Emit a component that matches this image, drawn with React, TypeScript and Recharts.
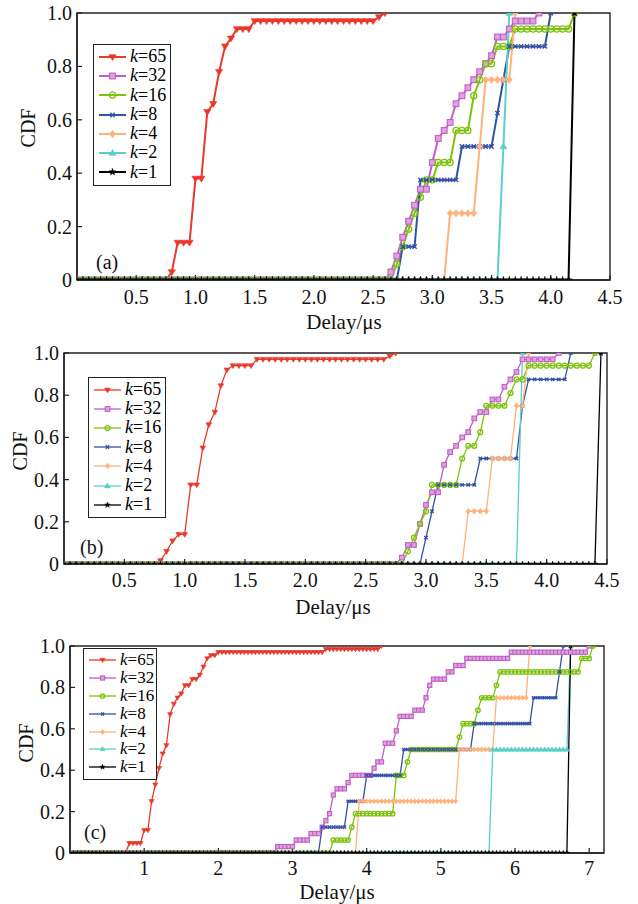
import React from 'react';
import { LineChart, Line, XAxis, YAxis, Legend, ReferenceArea } from 'recharts';

const FONT = '"Liberation Serif", "Times New Roman", Times, serif';
const STEP = 0.05; // delay sampling interval of the CDF, in μs

const seriesLabels = ['65', '32', '16', '8', '4', '2', '1'];
const seriesColors = ['#e8392c', '#c25ec6', '#7dc20f', '#3451a3', '#ffb27c', '#5ccfca', '#000000'];
const seriesFills = ['#e8392c', '#dba4de', 'none', '#3451a3', '#ffb27c', '#5ccfca', '#000000'];
const seriesMarkers = ['triDown', 'square', 'circle', 'cross', 'diamond', 'triUp', 'star'];

// Each series: [delay where the level starts, CDF level]; the last pair is the final point.
// Panel (a)
const a_k65 = [[0, 0], [0.8, 0.03], [0.85, 0.14], [1.0, 0.38], [1.1, 0.63], [1.15, 0.66], [1.2, 0.78], [1.25, 0.875], [1.3, 0.905], [1.35, 0.94], [1.5, 0.97], [2.55, 0.985], [2.6, 1.0]];
const a_k32 = [[0, 0], [2.65, 0.03], [2.7, 0.09], [2.75, 0.16], [2.8, 0.22], [2.85, 0.28], [2.9, 0.34], [3.0, 0.44], [3.05, 0.53], [3.1, 0.56], [3.15, 0.59], [3.2, 0.66], [3.25, 0.69], [3.3, 0.72], [3.35, 0.75], [3.4, 0.78], [3.45, 0.81], [3.5, 0.84], [3.55, 0.91], [3.65, 0.94], [3.7, 0.97], [3.9, 1.0]];
const a_k16 = [[0, 0], [2.7, 0.06], [2.75, 0.125], [2.8, 0.19], [2.85, 0.25], [2.9, 0.31], [2.95, 0.375], [3.05, 0.44], [3.2, 0.56], [3.35, 0.69], [3.4, 0.75], [3.45, 0.81], [3.55, 0.875], [3.7, 0.94], [4.2, 1.0]];
const a_k8 = [[0, 0], [2.75, 0.125], [2.9, 0.375], [3.25, 0.5], [3.55, 0.625], [3.6, 0.75], [3.65, 0.875], [4.0, 1.0]];
const a_k4 = [[0, 0], [3.15, 0.25], [3.4, 0.5], [3.45, 0.75], [3.7, 1.0]];
const a_k2 = [[0, 0], [3.6, 0.5], [3.65, 1.0]];
const a_k1 = [[0, 0], [4.2, 1.0]];

// Panel (b)
const b_k65 = [[0, 0], [0.8, 0.016], [0.85, 0.06], [0.9, 0.11], [0.95, 0.14], [1.05, 0.375], [1.15, 0.55], [1.2, 0.66], [1.25, 0.72], [1.3, 0.845], [1.35, 0.92], [1.4, 0.94], [1.6, 0.97], [2.7, 0.985], [2.75, 1.0]];
const b_k32 = [[0, 0], [2.8, 0.03], [2.85, 0.09], [2.95, 0.19], [3.0, 0.28], [3.05, 0.34], [3.15, 0.47], [3.2, 0.53], [3.25, 0.56], [3.3, 0.6], [3.35, 0.625], [3.4, 0.69], [3.45, 0.72], [3.55, 0.78], [3.65, 0.84], [3.7, 0.875], [3.75, 0.91], [3.8, 0.97], [4.1, 1.0]];
const b_k16 = [[0, 0], [2.85, 0.06], [2.9, 0.125], [2.95, 0.19], [3.0, 0.25], [3.05, 0.375], [3.3, 0.5], [3.35, 0.56], [3.45, 0.625], [3.5, 0.75], [3.7, 0.81], [3.75, 0.875], [3.85, 0.94], [4.4, 1.0]];
const b_k8 = [[0, 0], [3.0, 0.125], [3.05, 0.25], [3.1, 0.375], [3.45, 0.5], [3.8, 0.75], [3.85, 0.875], [4.2, 1.0]];
const b_k4 = [[0, 0], [3.35, 0.25], [3.55, 0.5], [3.75, 0.75], [3.85, 1.0]];
const b_k2 = [[0, 0], [3.8, 1.0]];
const b_k1 = [[0, 0], [4.45, 1.0]];

// Panel (c)
const c_k65 = [[0, 0], [0.8, 0.047], [1.0, 0.11], [1.1, 0.25], [1.15, 0.33], [1.2, 0.41], [1.25, 0.48], [1.3, 0.52], [1.35, 0.67], [1.4, 0.72], [1.45, 0.75], [1.5, 0.77], [1.55, 0.81], [1.65, 0.84], [1.75, 0.86], [1.8, 0.9], [1.85, 0.94], [1.9, 0.955], [2.0, 0.97], [3.45, 0.985], [4.2, 1.0]];
const c_k32 = [[0, 0], [2.8, 0.031], [3.05, 0.0625], [3.25, 0.094], [3.4, 0.125], [3.45, 0.156], [3.5, 0.19], [3.55, 0.28], [3.6, 0.31], [3.75, 0.34], [3.8, 0.375], [4.1, 0.41], [4.15, 0.44], [4.25, 0.53], [4.4, 0.59], [4.45, 0.66], [4.65, 0.69], [4.8, 0.75], [4.85, 0.81], [4.9, 0.84], [5.1, 0.875], [5.2, 0.906], [5.35, 0.94], [5.95, 0.97], [7.0, 1.0]];
const c_k16 = [[0, 0], [3.55, 0.0625], [3.8, 0.125], [3.85, 0.19], [4.4, 0.375], [4.55, 0.44], [4.6, 0.5], [5.25, 0.56], [5.3, 0.625], [5.5, 0.69], [5.55, 0.75], [5.75, 0.81], [5.8, 0.875], [6.9, 0.94], [7.05, 1.0]];
const c_k8 = [[0, 0], [3.4, 0.125], [3.75, 0.25], [4.0, 0.375], [4.5, 0.5], [5.45, 0.625], [6.25, 0.75], [6.6, 0.875], [6.65, 1.0]];
const c_k4 = [[0, 0], [3.9, 0.25], [5.25, 0.5], [5.75, 0.75], [6.2, 1.0]];
const c_k2 = [[0, 0], [5.7, 0.5], [6.75, 1.0]];
const c_k1 = [[0, 0], [6.75, 1.0]];

const yTicks = [0, 0.2, 0.4, 0.6, 0.8, 1.0];
const xTicksAB = [0.5, 1.0, 1.5, 2.0, 2.5, 3.0, 3.5, 4.0, 4.5];
const xTicksC = [1, 2, 3, 4, 5, 6, 7];

function expand(steps: number[][]) {
  const pts: { x: number; y: number }[] = [];
  for (let i = 0; i < steps.length - 1; i++) {
    const n0 = Math.round(steps[i][0] / STEP);
    const n1 = Math.round(steps[i + 1][0] / STEP);
    for (let n = n0; n < n1; n++) pts.push({ x: +(n * STEP).toFixed(2), y: steps[i][1] });
  }
  const last = steps[steps.length - 1];
  pts.push({ x: last[0], y: last[1] });
  return pts;
}

function marker(shape: string, cx: number, cy: number, s: number, color: string, fill: string, key: any) {
  switch (shape) {
    case 'triDown':
      return <polygon key={key} points={`${cx - s},${cy - s * 0.65} ${cx + s},${cy - s * 0.65} ${cx},${cy + s}`} fill={fill} stroke={color} strokeWidth={0.6} />;
    case 'triUp':
      return <polygon key={key} points={`${cx - s},${cy + s * 0.65} ${cx + s},${cy + s * 0.65} ${cx},${cy - s}`} fill={fill} stroke={color} strokeWidth={0.6} />;
    case 'square':
      return <rect key={key} x={cx - s * 0.8} y={cy - s * 0.8} width={s * 1.6} height={s * 1.6} fill={fill} stroke={color} strokeWidth={1.1} />;
    case 'circle':
      return <circle key={key} cx={cx} cy={cy} r={s * 0.85} fill="none" stroke={color} strokeWidth={1.3} />;
    case 'cross': {
      const d = s * 0.6;
      return <path key={key} d={`M${cx - d},${cy - d}L${cx + d},${cy + d}M${cx - d},${cy + d}L${cx + d},${cy - d}`} stroke={color} strokeWidth={1.4} fill="none" />;
    }
    case 'diamond':
      return <polygon key={key} points={`${cx},${cy - s} ${cx + s * 0.8},${cy} ${cx},${cy + s} ${cx - s * 0.8},${cy}`} fill={fill} stroke={color} strokeWidth={0.6} />;
    case 'star': {
      const p: string[] = [];
      for (let i = 0; i < 10; i++) {
        const a = (-90 + i * 36) * Math.PI / 180;
        const r = i % 2 === 0 ? s * 1.05 : s * 0.45;
        p.push(`${cx + r * Math.cos(a)},${cy + r * Math.sin(a)}`);
      }
      return <polygon key={key} points={p.join(' ')} fill={fill} stroke={color} strokeWidth={0.4} />;
    }
    default:
      return <circle key={key} cx={cx} cy={cy} r={s} fill={fill} />;
  }
}

const panels = [
  {
    id: 'a', top: 0, height: 340, plot: { left: 77, right: 610, top: 13, bottom: 280 },
    xDomain: [0, 4.5], xTicks: xTicksAB, xFmt: (v: number) => v.toFixed(1),
    series: [a_k65, a_k32, a_k16, a_k8, a_k4, a_k2, a_k1],
    lineW: 2, mSize: 3.6,
    xTickBase: 24, xTitleY: 329, xTitleX: 344,
    yTitle: { x: 35, y: 128 },
    legend: { left: 93, top: 44, width: 78, rowH: 19.3, font: 18 },
    tag: { x: 96, y: 269 },
  },
  {
    id: 'b', top: 340, height: 280, plot: { left: 64, right: 607, top: 13, bottom: 224 },
    xDomain: [0, 4.5], xTicks: xTicksAB, xFmt: (v: number) => v.toFixed(1),
    series: [b_k65, b_k32, b_k16, b_k8, b_k4, b_k2, b_k1],
    lineW: 1.3, mSize: 2.9,
    xTickBase: 23, xTitleY: 274, xTitleX: 333,
    yTitle: { x: 27, y: 111 },
    legend: { left: 88, top: 37, width: 78, rowH: 19.2, font: 18 },
    tag: { x: 80, y: 214 },
  },
  {
    id: 'c', top: 620, height: 284, plot: { left: 70, right: 604, top: 26, bottom: 233 },
    xDomain: [0, 7.2], xTicks: xTicksC, xFmt: (v: number) => String(v),
    series: [c_k65, c_k32, c_k16, c_k8, c_k4, c_k2, c_k1],
    lineW: 1.3, mSize: 2.6,
    xTickBase: 22, xTitleY: 279, xTitleX: 337,
    yTitle: { x: 33, y: 123 },
    legend: { left: 83, top: 28, width: 74, rowH: 17.9, font: 17 },
    tag: { x: 84, y: 219 },
  },
];

function FixedText(props: any) {
  const { posX, posY, txt, size, rot } = props;
  return (
    <text x={posX} y={posY} textAnchor="middle" fontFamily={FONT} fontSize={size} fill="#111"
      transform={rot ? `rotate(-90, ${posX}, ${posY})` : undefined}>{txt}</text>
  );
}

function TagText(props: any) {
  const { posX, posY, txt } = props;
  return <text x={posX} y={posY} textAnchor="start" fontFamily={FONT} fontSize={20} fill="#111">{txt}</text>;
}

function LegendBox({ cfg, lineW, mSize }: any) {
  return (
    <div style={{ border: '1.3px solid #222', background: '#fff', width: cfg.width, boxSizing: 'border-box', padding: '2px 0 3px 4px', fontFamily: FONT, fontSize: cfg.font, lineHeight: `${cfg.rowH}px` }}>
      {seriesLabels.map((lab, i) => (
        <div key={lab} style={{ display: 'flex', alignItems: 'center', height: cfg.rowH, whiteSpace: 'nowrap' }}>
          <svg width={29} height={12} style={{ display: 'block', marginRight: 3, overflow: 'visible' }}>
            <line x1={1} y1={6} x2={28} y2={6} stroke={seriesColors[i]} strokeWidth={lineW} />
            {marker(seriesMarkers[i], 14.5, 6, mSize, seriesColors[i], seriesFills[i], 'm')}
          </svg>
          <span><i>k</i>={lab}</span>
        </div>
      ))}
    </div>
  );
}

function Panel({ p }: any) {
  const margin = { top: p.plot.top, right: 638 - p.plot.right, left: 0, bottom: 0 };
  const xAxisH = p.height - p.plot.bottom;
  return (
    <div style={{ position: 'absolute', left: 0, top: p.top, width: 638, height: p.height }}>
      <LineChart width={638} height={p.height} margin={margin}>
        <XAxis type="number" dataKey="x" domain={p.xDomain} ticks={p.xTicks} interval={0} height={xAxisH}
          allowDataOverflow tickSize={-5} tickMargin={5}
          axisLine={{ stroke: '#222', strokeWidth: 1.4 }} tickLine={{ stroke: '#222', strokeWidth: 1.2 }}
          tick={(t: any) => (
            <text key={t.index} x={t.x} y={t.y + p.xTickBase} textAnchor="middle" fontFamily={FONT} fontSize={20} fill="#111">{p.xFmt(t.payload.value)}</text>
          )}
          label={<FixedText posX={p.xTitleX} posY={p.xTitleY} txt="Delay/μs" size={21} />}
        />
        <YAxis type="number" domain={[0, 1]} ticks={yTicks} interval={0} width={p.plot.left}
          allowDataOverflow tickSize={-5} tickMargin={5}
          axisLine={{ stroke: '#222', strokeWidth: 1.4 }} tickLine={{ stroke: '#222', strokeWidth: 1.2 }}
          tick={(t: any) => (
            <text key={t.index} x={t.x - 5} y={t.y + 7} textAnchor="end" fontFamily={FONT} fontSize={20} fill="#111">{t.payload.value === 0 ? '0' : t.payload.value.toFixed(1)}</text>
          )}
          label={<FixedText posX={p.yTitle.x} posY={p.yTitle.y} txt="CDF" size={20} rot />}
        />
        <ReferenceArea x1={p.xDomain[0]} x2={p.xDomain[1]} y1={0} y2={1} fill="none" fillOpacity={0}
          stroke="#222" strokeWidth={1.4} ifOverflow="visible"
          label={<TagText posX={p.tag.x} posY={p.tag.y} txt={`(${p.id})`} />} />
        {p.series.map((steps: number[][], i: number) => (
          <Line key={seriesLabels[i]} data={expand(steps)} dataKey="y" name={`k=${seriesLabels[i]}`}
            type="linear" stroke={seriesColors[i]} strokeWidth={p.lineW} isAnimationActive={false}
            dot={(d: any) => marker(seriesMarkers[i], d.cx, d.cy, p.mSize, seriesColors[i], seriesFills[i], `${seriesLabels[i]}-${d.index}`)}
            activeDot={false} />
        ))}
        <Legend layout="vertical" align="center" verticalAlign="middle"
          wrapperStyle={{ left: p.legend.left, top: p.legend.top, width: 'auto', height: 'auto' }}
          content={() => <LegendBox cfg={p.legend} lineW={p.lineW} mSize={p.mSize} />} />
      </LineChart>
    </div>
  );
}

export default function App() {
  return (
    <div style={{ position: 'absolute', left: 0, top: 0, width: 638, height: 904, background: '#fff' }}>
      {panels.map((p) => <Panel key={p.id} p={p} />)}
    </div>
  );
}
